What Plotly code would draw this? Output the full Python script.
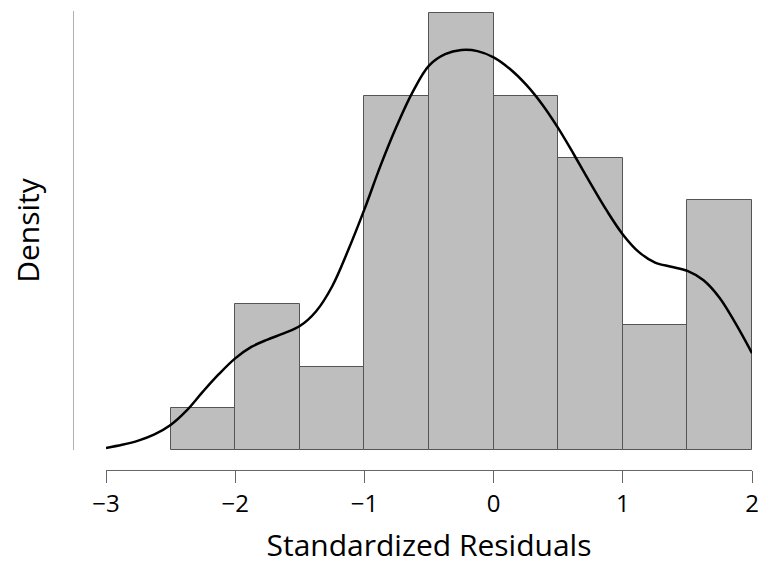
import plotly.graph_objects as go

# Histogram bins (left edges) and densities
bin_left = [-2.5, -2.0, -1.5, -1.0, -0.5, 0.0, 0.5, 1.0, 1.5]
bin_width = 0.5
density = [0.04, 0.14, 0.08, 0.34, 0.42, 0.34, 0.28, 0.12, 0.24]

# Density curve (every 0.125)
curve_x = [-3.0, -2.875, -2.75, -2.625, -2.5, -2.375, -2.25, -2.125, -2.0, -1.875,
           -1.75, -1.625, -1.5, -1.375, -1.25, -1.125, -1.0, -0.875, -0.75, -0.625,
           -0.5, -0.375, -0.25, -0.125, 0.0, 0.125, 0.25, 0.375, 0.5, 0.625,
           0.75, 0.875, 1.0, 1.125, 1.25, 1.375, 1.5, 1.625, 1.75, 1.875, 2.0]
curve_y = [0.002, 0.005, 0.009, 0.015, 0.024, 0.038, 0.056, 0.073, 0.088, 0.099,
           0.106, 0.112, 0.119, 0.133, 0.157, 0.192, 0.231, 0.273, 0.311, 0.344,
           0.369, 0.380, 0.384, 0.383, 0.377, 0.366, 0.351, 0.332, 0.309, 0.283,
           0.256, 0.230, 0.207, 0.190, 0.180, 0.176, 0.172, 0.163, 0.146, 0.121, 0.093]

tick_vals = [-3, -2, -1, 0, 1, 2]
tick_text = ["\u22123", "\u22122", "\u22121", "0", "1", "2"]

FONT = "Open Sans"

fig = go.Figure()
fig.add_trace(go.Bar(
    x=[b + bin_width / 2 for b in bin_left], y=density, width=bin_width,
    marker=dict(color="#bebebe", line=dict(color="#555555", width=1)),
    showlegend=False, hoverinfo="skip",
))
fig.add_trace(go.Scatter(
    x=curve_x, y=curve_y, mode="lines",
    line=dict(color="black", width=2.5, shape="spline", smoothing=1.0),
    showlegend=False, hoverinfo="skip", cliponaxis=False,
))

# figure slightly wider than the window so the last tick label is drawn
W, H = 772, 565
ml, mt, mb = 73, 11, 95
x_right = 752
mr = W - x_right
pw = W - ml - mr
ph = H - mt - mb

fig.update_layout(
    width=W, height=H,
    margin=dict(l=ml, r=mr, t=mt, b=mb, autoexpand=False),
    paper_bgcolor="white", plot_bgcolor="white",
    font=dict(family=FONT, color="black"),
    bargap=0,
    xaxis=dict(
        domain=[(106 - ml) / pw, 1], range=[-3, 2],
        anchor="free", position=0, automargin=False,
        tickvals=tick_vals, ticktext=tick_text,
        ticks="outside", ticklen=12, tickwidth=1, tickcolor="#666666",
        showline=True, linecolor="#666666", linewidth=1,
        showgrid=False, zeroline=False,
        tickfont=dict(size=24, family=FONT),
        title=dict(text="Standardized Residuals", font=dict(size=30, family=FONT), standoff=22),
    ),
    yaxis=dict(
        domain=[(470 - 450) / ph, 1], range=[0, 0.4215],
        anchor="free", position=0, automargin=False,
        showticklabels=False, ticks="",
        showline=True, linecolor="#b0b0b0", linewidth=1,
        showgrid=False, zeroline=False,
        title=dict(text="Density", font=dict(size=30, family=FONT), standoff=23),
    ),
)

fig.write_html(
    "out.html",
    config={"displayModeBar": False},
    post_script="document.body.style.margin='0';document.body.style.overflow='hidden';",
)
